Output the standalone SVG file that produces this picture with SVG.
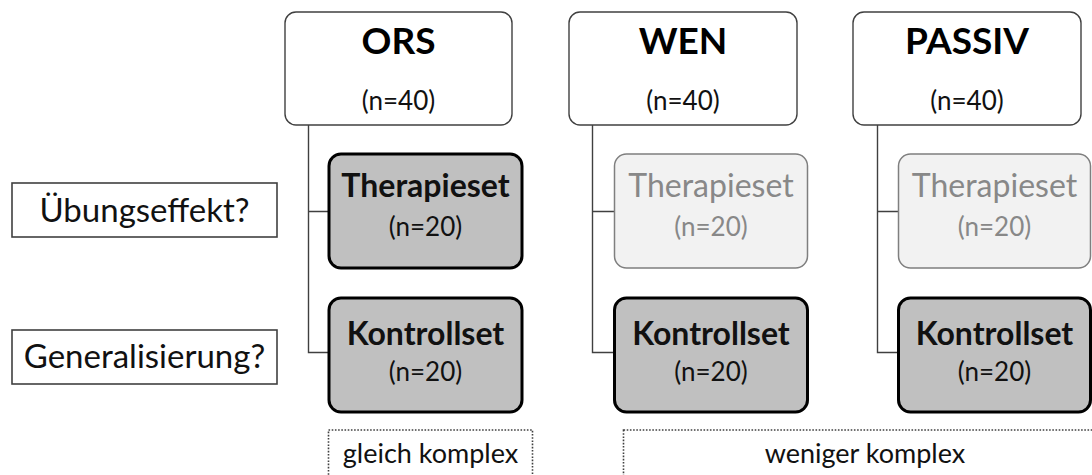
<svg xmlns="http://www.w3.org/2000/svg" width="1092" height="475" viewBox="0 0 1092 475">
<style>
text{font-family:Lato,"Open Sans","Liberation Sans",sans-serif;text-anchor:middle}
.top{fill:#fff;stroke:#404040;stroke-width:1.4}
.dark{fill:#c0c0c0;stroke:#000;stroke-width:3}
.light{fill:#f2f2f2;stroke:#7f7f7f;stroke-width:1.5}
.lab{fill:#fff;stroke:#404040;stroke-width:1.6}
.dot{fill:none;stroke:#404040;stroke-width:1.6;stroke-dasharray:1.6 1.6}
.title{font-size:37px;font-weight:bold;fill:#000}
.n{font-size:26px;fill:#111}
.sub{font-size:32px;font-weight:bold;fill:#111}
.ltxt{font-size:32px;fill:#888}
.ln{font-size:26px;fill:#888}
.q{font-size:33px;fill:#111}
.k{font-size:27px;fill:#111}
.conn{fill:none;stroke:#404040;stroke-width:1.4}
</style>
<g id="connectors">
<path class="conn" d="M308.5 125V352.5H328M308.5 211.5H328"/>
<path class="conn" d="M592.5 125V352.5H614M592.5 211.5H614"/>
<path class="conn" d="M877.5 125V352.5H898M877.5 211.5H898"/>
</g>
<g id="ors">
<rect class="top" x="285" y="12" width="227" height="113" rx="11"/>
<text class="title" x="398.5" y="54">ORS</text>
<text class="n" x="398.5" y="110">(n=40)</text>
</g>
<g id="wen">
<rect class="top" x="569" y="12" width="228" height="113" rx="11"/>
<text class="title" x="683" y="54">WEN</text>
<text class="n" x="683" y="110">(n=40)</text>
</g>
<g id="passiv">
<rect class="top" x="853" y="12" width="228" height="113" rx="11"/>
<text class="title" x="967" y="54">PASSIV</text>
<text class="n" x="967" y="110">(n=40)</text>
</g>
<g id="ors-therapieset">
<rect class="dark" x="329" y="154" width="193" height="114" rx="12"/>
<text class="sub" x="425.5" y="197">Therapieset</text>
<text class="n" x="425.5" y="236">(n=20)</text>
</g>
<g id="ors-kontrollset">
<rect class="dark" x="329" y="298" width="193" height="114" rx="12"/>
<text class="sub" x="425.5" y="345">Kontrollset</text>
<text class="n" x="425.5" y="381">(n=20)</text>
</g>
<g id="wen-therapieset">
<rect class="light" x="614.5" y="154" width="193" height="114" rx="12"/>
<text class="ltxt" x="711" y="197">Therapieset</text>
<text class="ln" x="711" y="236">(n=20)</text>
</g>
<g id="wen-kontrollset">
<rect class="dark" x="614.5" y="298" width="193" height="114" rx="12"/>
<text class="sub" x="711" y="345">Kontrollset</text>
<text class="n" x="711" y="381">(n=20)</text>
</g>
<g id="passiv-therapieset">
<rect class="light" x="898.5" y="154" width="192" height="114" rx="12"/>
<text class="ltxt" x="994.5" y="197">Therapieset</text>
<text class="ln" x="994.5" y="236">(n=20)</text>
</g>
<g id="passiv-kontrollset">
<rect class="dark" x="898.5" y="298" width="192" height="114" rx="12"/>
<text class="sub" x="994.5" y="345">Kontrollset</text>
<text class="n" x="994.5" y="381">(n=20)</text>
</g>
<g id="uebungseffekt">
<rect class="lab" x="12" y="183" width="265" height="54"/>
<text class="q" x="144.5" y="222">Übungseffekt?</text>
</g>
<g id="generalisierung">
<rect class="lab" x="12" y="330" width="265" height="54"/>
<text class="q" x="144.5" y="368">Generalisierung?</text>
</g>
<g id="gleich">
<rect class="dot" x="328.5" y="430" width="204" height="60"/>
<text class="k" x="430.5" y="463">gleich komplex</text>
</g>
<g id="weniger">
<rect class="dot" x="623.5" y="430" width="480" height="60"/>
<text class="k" x="865" y="463">weniger komplex</text>
</g>
</svg>
